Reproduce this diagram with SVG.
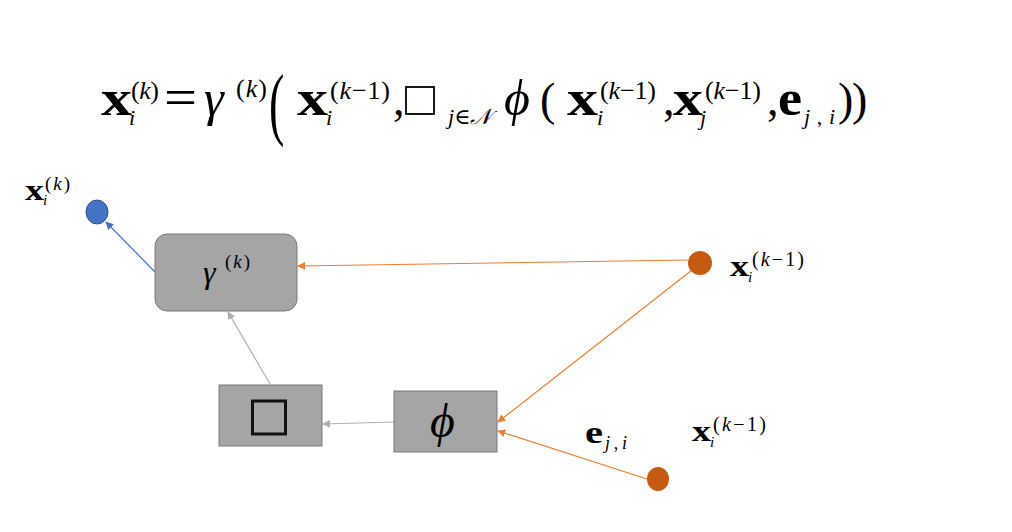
<svg xmlns="http://www.w3.org/2000/svg" width="1012" height="532" viewBox="0 0 1012 532">
<style>
.m{font-family:"Liberation Serif","DejaVu Serif",serif;fill:#000}
.b{font-weight:bold}
.it{font-style:italic}
.bx{font-size:50px;font-weight:bold}
.big{font-size:46px}
.sup{font-size:26px}
.sub{font-size:22px}
.box{fill:#A5A5A5;stroke:#787878;stroke-width:1}
.or{stroke:#ED7D31;stroke-width:1.2;fill:none}
.gr{stroke:#AFAFAF;stroke-width:1.2;fill:none}
.bl{stroke:#4472C4;stroke-width:1.2;fill:none}
</style>
<defs>
<marker id="ao" viewBox="0 0 10 10" refX="9" refY="5" markerWidth="8" markerHeight="8" markerUnits="userSpaceOnUse" orient="auto"><path d="M0,0 L10,5 L0,10 z" fill="#ED7D31"/></marker>
<marker id="ag" viewBox="0 0 10 10" refX="9" refY="5" markerWidth="8" markerHeight="8" markerUnits="userSpaceOnUse" orient="auto"><path d="M0,0 L10,5 L0,10 z" fill="#AFAFAF"/></marker>
<marker id="ab" viewBox="0 0 10 10" refX="9" refY="5" markerWidth="8" markerHeight="8" markerUnits="userSpaceOnUse" orient="auto"><path d="M0,0 L10,5 L0,10 z" fill="#4472C4"/></marker>
</defs>
<rect width="1012" height="532" fill="#fff"/>

<g id="formula" class="m">
<text x="101" y="115" class="bx" textLength="31" lengthAdjust="spacingAndGlyphs">x</text>
<text x="131" y="99" class="sup" textLength="28">(<tspan class="it">k</tspan>)</text>
<text x="129" y="125" class="sub it">i</text>
<text x="164" y="115" font-size="52" textLength="33" lengthAdjust="spacingAndGlyphs">=</text>
<text x="204" y="115" font-size="50" class="it">γ</text>
<text x="236" y="97" class="sup" textLength="31">(<tspan class="it">k</tspan>)</text>
<text x="0" y="0" font-size="46" transform="translate(269 130) scale(1 1.75)">(</text>
<text x="297" y="115" class="bx" textLength="31" lengthAdjust="spacingAndGlyphs">x</text>
<text x="330" y="99" class="sup" textLength="60">(<tspan class="it">k</tspan>−1)</text>
<text x="326" y="125" class="sub it">i</text>
<text x="393" y="115" class="big">,</text>
<rect x="406" y="87" width="28" height="27" fill="none" stroke="#000" stroke-width="1.8"/>
<text x="448" y="124" class="sub it">j<tspan font-style="normal">∈</tspan>𝒩</text>
<text x="504" y="115" font-size="50" class="it">ϕ</text>
<text x="540" y="115" class="big">(</text>
<text x="567" y="115" class="bx" textLength="31" lengthAdjust="spacingAndGlyphs">x</text>
<text x="600" y="99" class="sup" textLength="56">(<tspan class="it">k</tspan>−1)</text>
<text x="597" y="125" class="sub it">i</text>
<text x="663" y="115" class="big">,</text>
<text x="673" y="115" class="bx" textLength="30" lengthAdjust="spacingAndGlyphs">x</text>
<text x="705" y="99" class="sup" textLength="56">(<tspan class="it">k</tspan>−1)</text>
<text x="700" y="125" class="sub it">j</text>
<text x="767" y="115" class="big">,</text>
<text x="778" y="115" class="bx" textLength="24" lengthAdjust="spacingAndGlyphs">e</text>
<text x="804" y="124" class="sub it" textLength="31">j<tspan font-style="normal">,</tspan>i</text>
<text x="838" y="115" class="big">)</text>
<text x="852" y="115" class="big">)</text>
</g>

<g id="connectors">
<line class="bl" x1="155" y1="272" x2="106" y2="222" marker-end="url(#ab)"/>
<line class="or" x1="688" y1="260" x2="298" y2="266" marker-end="url(#ao)"/>
<line class="or" x1="692" y1="270" x2="498" y2="422" marker-end="url(#ao)"/>
<line class="or" x1="647" y1="479" x2="498" y2="431" marker-end="url(#ao)"/>
<line class="gr" x1="394" y1="422" x2="323" y2="424" marker-end="url(#ag)"/>
<line class="gr" x1="270" y1="384" x2="228" y2="312" marker-end="url(#ag)"/>
</g>

<g id="out">
<ellipse cx="97" cy="212" rx="11" ry="12" fill="#4472C4" stroke="#2F528F" stroke-width="1"/>
<g class="m">
<text x="25" y="200" font-size="30" font-weight="bold" textLength="19" lengthAdjust="spacingAndGlyphs">x</text>
<text x="45" y="190" font-size="19" textLength="25">(<tspan font-style="italic">k</tspan>)</text>
<text x="43" y="205" font-size="15" font-style="italic">i</text>
</g>
</g>

<g id="gamma">
<rect class="box" x="155" y="234" width="142" height="77" rx="12"/>
<text class="m" x="203" y="283" font-size="32" font-style="italic">γ</text>
<text class="m" x="225" y="268" font-size="19" textLength="25">(<tspan font-style="italic">k</tspan>)</text>
</g>

<g id="agg">
<rect class="box" x="219" y="385" width="103" height="61"/>
<rect x="252.5" y="401" width="33" height="33" fill="none" stroke="#111" stroke-width="3"/>
</g>

<g id="phi">
<rect class="box" x="394" y="391" width="103" height="61"/>
<text class="m" x="430" y="437" font-size="48" font-style="italic">ϕ</text>
</g>

<g id="xi">
<ellipse cx="700" cy="263" rx="12" ry="12" fill="#C55A11"/>
<g class="m">
<text x="730" y="276" font-size="30" font-weight="bold" textLength="19" lengthAdjust="spacingAndGlyphs">x</text>
<text x="752" y="266" font-size="20" textLength="52">(<tspan font-style="italic">k</tspan>−1)</text>
<text x="748" y="282" font-size="15" font-style="italic">i</text>
</g>
</g>

<g id="eji">
<ellipse cx="658" cy="479" rx="11" ry="12" fill="#C55A11"/>
<g class="m">
<text x="585" y="443" font-size="32" font-weight="bold" textLength="18" lengthAdjust="spacingAndGlyphs">e</text>
<text x="605" y="449" font-size="18" font-style="italic" textLength="22">j<tspan font-style="normal">,</tspan>i</text>
</g>
</g>

<g id="xlabel2" class="m">
<text x="692" y="441" font-size="30" font-weight="bold" textLength="19" lengthAdjust="spacingAndGlyphs">x</text>
<text x="713" y="431" font-size="20" textLength="53">(<tspan font-style="italic">k</tspan>−1)</text>
<text x="710" y="447" font-size="15" font-style="italic">i</text>
</g>
</svg>
